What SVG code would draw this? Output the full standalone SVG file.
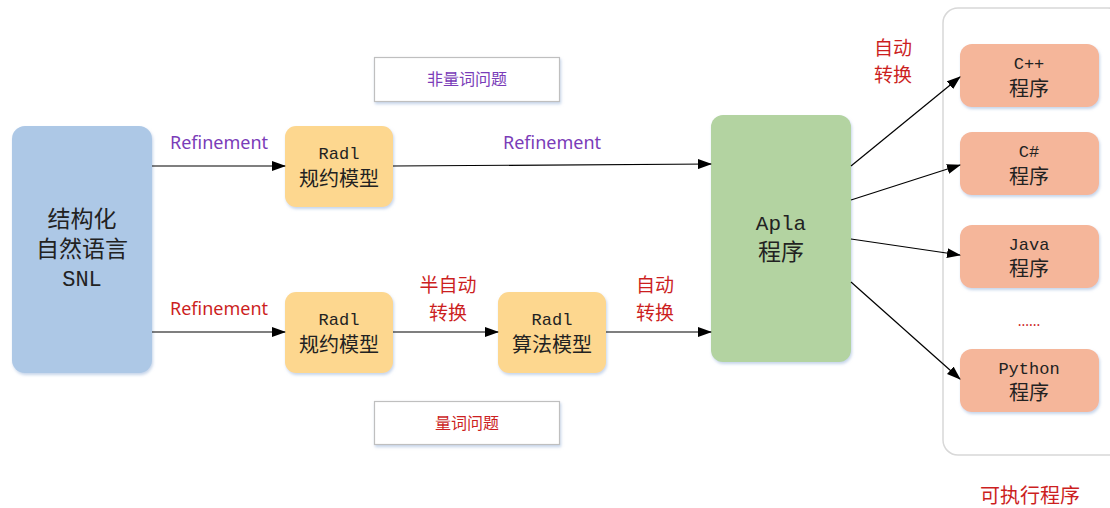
<svg xmlns="http://www.w3.org/2000/svg" width="1110" height="508" viewBox="0 0 1110 508">
<style>
.snl{fill:#adc8e6}
.radl{fill:#fdd78f}
.apla{fill:#b3d3a1}
.out{fill:#f5b69a}
.box{filter:url(#sh)}
.nt{font-family:"Liberation Mono","Noto Sans CJK SC",monospace;fill:#222;text-anchor:middle}
.lbl{font-family:"Noto Sans","Noto Sans CJK SC",sans-serif;text-anchor:middle}
.pur{fill:#7a3cb8}
.red{fill:#cc1f1f}
.conn line{stroke:#000;stroke-width:1.2;marker-end:url(#ah)}
</style>
<defs>
<marker id="ah" markerUnits="userSpaceOnUse" markerWidth="14" markerHeight="10" refX="13" refY="5" orient="auto">
<path d="M0,0 L14,5 L0,10 Z" fill="#000"/>
</marker>
<filter id="sh" x="-10%" y="-10%" width="125%" height="125%">
<feDropShadow dx="1" dy="2" stdDeviation="1.5" flood-color="#9fb8dc" flood-opacity="0.6"/>
</filter>
</defs>
<rect width="1110" height="508" fill="#fff"/>

<g id="container">
<rect x="943" y="8" width="180" height="447" rx="15" fill="#fff" stroke="#d8d8d8" stroke-width="1.5"/>
<text class="lbl red" x="1030" y="503" font-size="20">可执行程序</text>
</g>

<g id="nonquant">
<rect x="374.5" y="57.5" width="185" height="44" fill="#fff" stroke="#bfbfbf" stroke-width="1.2" style="filter:url(#sh)"/>
<text class="lbl pur" x="467" y="85" font-size="16">非量词问题</text>
</g>
<g id="quant">
<rect x="374.5" y="401.5" width="185" height="43" fill="#fff" stroke="#bfbfbf" stroke-width="1.2" style="filter:url(#sh)"/>
<text class="lbl red" x="467" y="429" font-size="16">量词问题</text>
</g>

<g id="snl">
<rect class="snl box" x="12" y="126" width="140" height="247" rx="13"/>
<text class="nt" x="82" y="227" font-size="23">结构化</text>
<text class="nt" x="82" y="257" font-size="23">自然语言</text>
<text class="nt" x="82" y="286" font-size="22" font-family="Liberation Sans">SNL</text>
</g>

<g id="radl1">
<rect class="radl box" x="285" y="126" width="108" height="81" rx="11"/>
<text class="nt" x="339" y="159" font-size="17">Radl</text>
<text class="nt" x="339" y="186" font-size="20">规约模型</text>
</g>
<g id="radl2">
<rect class="radl box" x="285" y="292" width="108" height="81" rx="11"/>
<text class="nt" x="339" y="325" font-size="17">Radl</text>
<text class="nt" x="339" y="352" font-size="20">规约模型</text>
</g>
<g id="radl3">
<rect class="radl box" x="498" y="292" width="108" height="81" rx="11"/>
<text class="nt" x="552" y="325" font-size="17">Radl</text>
<text class="nt" x="552" y="352" font-size="20">算法模型</text>
</g>

<g id="apla">
<rect class="apla box" x="711" y="115" width="140" height="247" rx="12"/>
<text class="nt" x="781" y="230" font-size="21">Apla</text>
<text class="nt" x="781" y="260" font-size="23">程序</text>
</g>

<g id="cpp">
<rect class="out box" x="960" y="44" width="139" height="63" rx="12"/>
<text class="nt" x="1029" y="69" font-size="17">C++</text>
<text class="nt" x="1029" y="96" font-size="20">程序</text>
</g>
<g id="csharp">
<rect class="out box" x="960" y="132" width="139" height="63" rx="12"/>
<text class="nt" x="1029" y="157" font-size="17">C#</text>
<text class="nt" x="1029" y="184" font-size="20">程序</text>
</g>
<g id="java">
<rect class="out box" x="960" y="225" width="139" height="63" rx="12"/>
<text class="nt" x="1029" y="250" font-size="17">Java</text>
<text class="nt" x="1029" y="276" font-size="20">程序</text>
</g>
<g id="dots">
<text class="lbl red" x="1029" y="326" font-size="14">......</text>
</g>
<g id="python">
<rect class="out box" x="960" y="349" width="139" height="63" rx="12"/>
<text class="nt" x="1029" y="374" font-size="17">Python</text>
<text class="nt" x="1029" y="400" font-size="20">程序</text>
</g>

<g class="conn" id="connectors">
<line x1="152" y1="166" x2="285" y2="166"/>
<line x1="393" y1="166" x2="711" y2="164"/>
<line x1="152" y1="332" x2="285" y2="332"/>
<line x1="393" y1="332" x2="498" y2="332"/>
<line x1="606" y1="332" x2="711" y2="332"/>
<line x1="851" y1="166" x2="960" y2="77"/>
<line x1="851" y1="200" x2="960" y2="165"/>
<line x1="851" y1="239" x2="960" y2="255"/>
<line x1="851" y1="282" x2="960" y2="379"/>
</g>

<g id="labels">
<text class="lbl pur" x="219" y="149" font-size="18">Refinement</text>
<text class="lbl pur" x="552" y="149" font-size="18">Refinement</text>
<text class="lbl red" x="219" y="315" font-size="18">Refinement</text>
<text class="lbl red" x="448" y="292" font-size="19">半自动</text>
<text class="lbl red" x="448" y="320" font-size="19">转换</text>
<text class="lbl red" x="655" y="292" font-size="19">自动</text>
<text class="lbl red" x="655" y="320" font-size="19">转换</text>
<text class="lbl red" x="893" y="55" font-size="19">自动</text>
<text class="lbl red" x="893" y="82" font-size="19">转换</text>
</g>
</svg>
